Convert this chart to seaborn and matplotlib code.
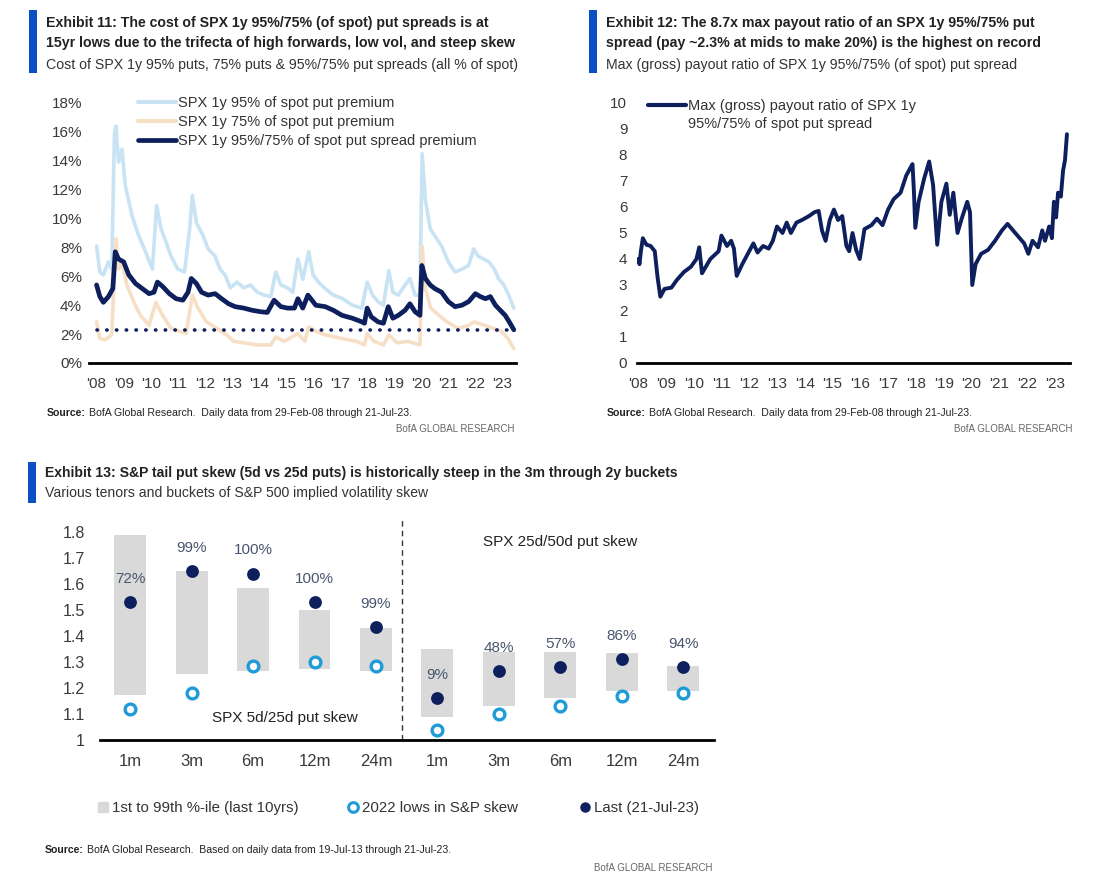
import matplotlib
matplotlib.use('Agg')
import matplotlib.pyplot as plt
from matplotlib.lines import Line2D
from matplotlib.patches import Rectangle
from matplotlib import font_manager
import seaborn as sns

# ---- Exhibit 11: cost of SPX 1y puts (% of spot); x = years, tick '08 = 2008.0
spread_year = [2008.00, 2008.12, 2008.25, 2008.44, 2008.60, 2008.69, 2008.81, 2009.00, 2009.19, 2009.44,
               2009.69, 2009.94, 2010.12, 2010.25, 2010.44, 2010.69, 2010.94, 2011.19, 2011.38, 2011.50,
               2011.69, 2011.88, 2012.12, 2012.38, 2012.62, 2012.88, 2013.12, 2013.44, 2013.75, 2014.06,
               2014.31, 2014.56, 2014.81, 2015.06, 2015.31, 2015.44, 2015.62, 2015.81, 2016.00, 2016.10,
               2016.45, 2016.75, 2017.07, 2017.45, 2017.80, 2017.90, 2018.00, 2018.15, 2018.40, 2018.60,
               2018.78, 2018.95, 2019.15, 2019.40, 2019.58, 2019.77, 2019.95, 2020.02, 2020.15, 2020.33,
               2020.50, 2020.75, 2021.00, 2021.25, 2021.50, 2021.75, 2022.00, 2022.18, 2022.37, 2022.55,
               2022.74, 2022.92, 2023.10, 2023.25, 2023.42]
spread_cost = [5.4, 4.6, 4.2, 4.6, 5.15, 7.7, 7.2, 7.0, 6.1, 5.5,
               5.15, 4.8, 4.9, 5.6, 5.3, 4.8, 4.45, 4.35, 4.9, 5.85,
               5.5, 4.9, 4.7, 4.8, 4.45, 4.1, 3.9, 3.8, 3.65, 3.55,
               3.5, 4.35, 3.9, 3.8, 3.8, 4.45, 3.8, 4.7, 4.25, 4.0,
               3.9, 3.65, 3.3, 3.1, 2.85, 2.75, 3.8, 3.2, 2.85, 2.75,
               3.9, 3.1, 3.3, 3.65, 4.1, 3.55, 3.3, 6.75, 5.85, 5.4,
               5.15, 4.9, 4.25, 3.9, 4.0, 4.25, 4.8, 4.6, 4.45, 4.6,
               4.0, 3.65, 3.3, 2.85, 2.3]

put95_year = [2008.00, 2008.12, 2008.25, 2008.44, 2008.56, 2008.66, 2008.72, 2008.81, 2008.94, 2009.06,
              2009.31, 2009.56, 2009.81, 2010.06, 2010.22, 2010.38, 2010.56, 2010.75, 2011.00, 2011.25,
              2011.44, 2011.54, 2011.69, 2011.94, 2012.12, 2012.38, 2012.56, 2012.75, 2012.94, 2013.19,
              2013.44, 2013.69, 2013.94, 2014.19, 2014.44, 2014.62, 2014.81, 2015.06, 2015.25, 2015.44,
              2015.62, 2015.84, 2016.00, 2016.20, 2016.45, 2016.75, 2017.10, 2017.45, 2017.80, 2018.00,
              2018.20, 2018.40, 2018.60, 2018.80, 2018.95, 2019.15, 2019.40, 2019.58, 2019.77, 2019.95,
              2020.03, 2020.15, 2020.33, 2020.50, 2020.75, 2021.00, 2021.25, 2021.50, 2021.75, 2021.93,
              2022.10, 2022.30, 2022.50, 2022.70, 2022.85, 2023.05, 2023.23, 2023.42]
put95_cost = [8.1, 6.3, 6.1, 7.0, 6.5, 15.9, 16.4, 13.9, 14.8, 12.3,
              10.2, 8.8, 7.7, 6.5, 10.9, 9.3, 8.4, 7.4, 6.5, 6.3,
              9.3, 11.6, 9.7, 8.8, 7.9, 7.4, 6.5, 6.1, 5.2, 5.6,
              5.2, 5.4, 4.9, 4.7, 4.6, 6.3, 5.4, 5.2, 4.9, 7.2,
              5.8, 7.7, 6.1, 5.6, 5.15, 4.7, 4.45, 4.0, 3.8, 5.6,
              4.7, 4.25, 4.0, 6.4, 4.9, 4.7, 5.4, 5.85, 4.7, 4.7,
              14.5, 11.3, 9.3, 8.8, 8.1, 7.0, 6.3, 6.5, 6.75, 7.9,
              7.4, 7.2, 7.0, 6.5, 5.85, 5.4, 4.7, 3.8]

put75_year = [2008.00, 2008.12, 2008.31, 2008.56, 2008.72, 2008.81, 2008.94, 2009.12, 2009.38, 2009.62,
              2009.94, 2010.19, 2010.44, 2010.75, 2011.06, 2011.31, 2011.54, 2011.75, 2012.06, 2012.44,
              2012.81, 2013.06, 2013.44, 2013.94, 2014.44, 2014.62, 2014.94, 2015.44, 2015.69, 2015.84,
              2016.10, 2016.45, 2017.05, 2017.60, 2017.90, 2018.00, 2018.25, 2018.60, 2018.80, 2019.10,
              2019.50, 2019.95, 2020.03, 2020.15, 2020.35, 2020.65, 2020.95, 2021.35, 2021.75, 2021.95,
              2022.35, 2022.65, 2022.95, 2023.20, 2023.42]
put75_cost = [2.85, 1.7, 1.6, 1.95, 8.6, 6.5, 7.0, 5.4, 4.2, 3.3,
              2.6, 4.2, 3.3, 2.4, 2.2, 2.05, 4.7, 3.8, 2.85, 2.4,
              1.95, 1.5, 1.4, 1.25, 1.25, 1.8, 1.5, 2.05, 1.5, 2.5,
              2.2, 1.95, 1.7, 1.5, 1.25, 2.05, 1.5, 1.25, 1.95, 1.4,
              1.5, 1.25, 8.1, 5.15, 3.8, 3.3, 2.85, 2.4, 2.6, 2.85,
              2.6, 2.4, 2.2, 1.7, 1.0]

spread_now = 2.3  # dotted line: current put spread cost

# ---- Exhibit 12: max (gross) payout ratio of the 95%/75% put spread
payout_year = [2008.00, 2008.05, 2008.10, 2008.17, 2008.30, 2008.45, 2008.60, 2008.70, 2008.80, 2008.95,
               2009.20, 2009.40, 2009.65, 2009.90, 2010.10, 2010.20, 2010.30, 2010.60, 2010.90, 2011.00,
               2011.20, 2011.35, 2011.45, 2011.55, 2011.75, 2012.00, 2012.15, 2012.30, 2012.50, 2012.70,
               2012.85, 2013.00, 2013.20, 2013.35, 2013.50, 2013.70, 2013.90, 2014.15, 2014.35, 2014.50,
               2014.62, 2014.75, 2014.90, 2015.05, 2015.20, 2015.35, 2015.50, 2015.60, 2015.72, 2015.85,
               2015.98, 2016.15, 2016.40, 2016.60, 2016.80, 2017.00, 2017.20, 2017.45, 2017.65, 2017.80,
               2017.88, 2017.93, 2017.98, 2018.10, 2018.30, 2018.48, 2018.62, 2018.77, 2018.92, 2019.10,
               2019.22, 2019.35, 2019.50, 2019.65, 2019.85, 2019.95, 2020.03, 2020.15, 2020.35, 2020.60,
               2020.85, 2021.10, 2021.30, 2021.50, 2021.70, 2021.90, 2022.05, 2022.20, 2022.40, 2022.55,
               2022.65, 2022.80, 2022.90, 2022.97, 2023.05, 2023.12, 2023.22, 2023.30, 2023.37, 2023.44]
payout_ratio = [4.0, 3.8, 4.3, 4.8, 4.55, 4.5, 4.3, 3.3, 2.55, 2.85,
                2.9, 3.2, 3.5, 3.7, 4.0, 4.45, 3.45, 4.0, 4.3, 4.9,
                4.5, 4.7, 4.4, 3.35, 3.8, 4.3, 4.6, 4.25, 4.5, 4.4,
                4.7, 5.25, 5.0, 5.4, 5.0, 5.4, 5.5, 5.65, 5.8, 5.85,
                5.1, 4.7, 5.5, 5.9, 5.5, 5.65, 4.5, 4.3, 5.0, 4.35,
                4.0, 5.15, 5.3, 5.55, 5.3, 5.9, 6.3, 6.55, 7.2, 7.5,
                7.65, 6.6, 5.2, 6.2, 7.1, 7.75, 6.85, 4.55, 6.2, 6.9,
                5.7, 6.55, 5.0, 5.55, 6.2, 5.8, 3.0, 3.8, 4.2, 4.35,
                4.7, 5.1, 5.35, 5.1, 4.85, 4.6, 4.2, 4.7, 4.45, 5.1,
                4.7, 5.25, 4.8, 6.2, 5.6, 6.55, 6.4, 7.4, 7.8, 8.8]

# ---- Exhibit 13: SPX implied vol skew by tenor
tenors = ['1m', '3m', '6m', '12m', '24m', '1m', '3m', '6m', '12m', '24m']
pct_1st = [1.175, 1.255, 1.265, 1.275, 1.265, 1.09, 1.13, 1.16, 1.19, 1.19]
pct_99th = [1.79, 1.65, 1.585, 1.50, 1.43, 1.35, 1.34, 1.34, 1.335, 1.285]
lows_2022 = [1.12, 1.18, 1.285, 1.30, 1.285, 1.04, 1.10, 1.13, 1.17, 1.18]
last_obs = [1.53, 1.65, 1.64, 1.53, 1.435, 1.16, 1.265, 1.28, 1.31, 1.28]
pct_rank = ['72%', '99%', '100%', '100%', '99%', '9%', '48%', '57%', '86%', '94%']

NAVY = '#0d1f5c'
LIGHT_BLUE = '#c8e3f3'
LIGHT_ORANGE = '#f7dfc6'
ACCENT = '#0a4fc4'
GRAY_BAR = '#d9d9d9'
CYAN = '#1f9bd7'
TXT = '#222222'
TICK = '#3a3a3a'

sns.set_theme(style='white')
installed = {f.name for f in font_manager.fontManager.ttflist}
main_font = 'Liberation Sans Narrow' if 'Liberation Sans Narrow' in installed else 'Liberation Sans'
plt.rcParams['font.family'] = [main_font, 'DejaVu Sans']

W, H = 1100, 886
fig = plt.figure(figsize=(W / 100, H / 100), dpi=100)


def fx(px):
    return px / W


def fy(py):
    return 1 - py / H


def axes_px(left, top, right, bottom):
    return fig.add_axes([fx(left), fy(bottom), (right - left) / W, (bottom - top) / H])


def header(x_bar, x_txt, y_top, y_bot, title_lines, subtitle, size=10.2):
    fig.add_artist(Rectangle((fx(x_bar), fy(y_bot)), 8 / W, (y_bot - y_top) / H,
                             transform=fig.transFigure, color=ACCENT, lw=0))
    for y, line in title_lines:
        fig.text(fx(x_txt), fy(y), line, fontsize=size, fontweight='bold', color=TXT, va='center')
    fig.text(fx(x_txt), fy(subtitle[0]), subtitle[1], fontsize=size, color='#333333', va='center')


def footer(x_txt, y_src, x_right, y_brand, note):
    src = fig.text(fx(x_txt), fy(y_src), 'Source:', fontsize=7.6, fontweight='bold', color=TXT, va='center')
    plt.annotate(note, xy=(1, 0.5), xycoords=src, xytext=(2, 0), textcoords='offset points',
                 fontsize=7.6, color=TXT, va='center', annotation_clip=False)
    fig.text(fx(x_right), fy(y_brand), 'BofA GLOBAL RESEARCH', fontsize=7, color='#666666',
             ha='right', va='center')


def style_time_axis(ax, ypad):
    ax.set_xlim(2007.72, 2023.50)
    ax.set_xticks(range(2008, 2024))
    ax.set_xticklabels([f"'{y % 100:02d}" for y in range(2008, 2024)])
    for s in ['top', 'right', 'left']:
        ax.spines[s].set_visible(False)
    ax.spines['bottom'].set_color('black')
    ax.spines['bottom'].set_linewidth(2)
    ax.tick_params(axis='both', length=0, labelsize=11, labelcolor=TICK)
    ax.tick_params(axis='y', pad=ypad)
    ax.tick_params(axis='x', pad=10)
    ax.set_xlabel('')
    ax.set_ylabel('')
    ax.grid(False)


# ---------------- Exhibit 11 ----------------
header(29, 46, 10, 73,
       [(23, 'Exhibit 11: The cost of SPX 1y 95%/75% (of spot) put spreads is at'),
        (43, '15yr lows due to the trifecta of high forwards, low vol, and steep skew')],
       (65, 'Cost of SPX 1y 95% puts, 75% puts & 95%/75% put spreads (all % of spot)'))

ax1 = axes_px(89, 103, 516, 363)
sns.lineplot(x=put95_year, y=put95_cost, ax=ax1, color=LIGHT_BLUE, lw=2.6, estimator=None, sort=False)
sns.lineplot(x=put75_year, y=put75_cost, ax=ax1, color=LIGHT_ORANGE, lw=2.6, estimator=None, sort=False)
sns.lineplot(x=spread_year, y=spread_cost, ax=ax1, color=NAVY, lw=3.4, estimator=None, sort=False)
sns.lineplot(x=[spread_year[0], spread_year[-1]], y=[spread_now, spread_now], ax=ax1, color=NAVY,
             lw=2.6, linestyle=(0, (0.1, 2.6)), dash_capstyle='round', estimator=None)
ax1.set_ylim(0, 18)
ax1.set_yticks(range(0, 19, 2))
ax1.set_yticklabels([f'{v}%' for v in range(0, 19, 2)])
style_time_axis(ax1, 5)
leg_handles = [Line2D([], [], color=LIGHT_BLUE, lw=3), Line2D([], [], color=LIGHT_ORANGE, lw=3),
               Line2D([], [], color=NAVY, lw=3.4, solid_capstyle='round')]
ax1.legend(leg_handles, ['SPX 1y 95% of spot put premium', 'SPX 1y 75% of spot put premium',
                         'SPX 1y 95%/75% of spot put spread premium'],
           loc='upper left', bbox_to_anchor=(fx(138), fy(96)), bbox_transform=fig.transFigure,
           frameon=False, fontsize=10.5, handlelength=2.6, handletextpad=0.15, labelspacing=0.35,
           borderpad=0, borderaxespad=0, labelcolor='#333333')
footer(47, 413, 515, 429, 'BofA Global Research.  Daily data from 29-Feb-08 through 21-Jul-23.')

# ---------------- Exhibit 12 ----------------
header(589, 606, 10, 73,
       [(23, 'Exhibit 12: The 8.7x max payout ratio of an SPX 1y 95%/75% put'),
        (43, 'spread (pay ~2.3% at mids to make 20%) is the highest on record')],
       (65, 'Max (gross) payout ratio of SPX 1y 95%/75% (of spot) put spread'))

ax2 = axes_px(637, 103, 1070, 363)
sns.lineplot(x=payout_year, y=payout_ratio, ax=ax2, color=NAVY, lw=2.8, estimator=None, sort=False)
ax2.set_ylim(0, 10)
ax2.set_yticks(range(0, 11))
style_time_axis(ax2, 7)
ax2.set_xlim(2007.96, 2023.55)
ax2.legend([Line2D([], [], color=NAVY, lw=3, solid_capstyle='round'), Line2D([], [], lw=0)],
           ['Max (gross) payout ratio of SPX 1y', '95%/75% of spot put spread'],
           loc='upper left', bbox_to_anchor=(fx(648), fy(99)), bbox_transform=fig.transFigure,
           frameon=False, fontsize=10.5, handlelength=2.6, handletextpad=0.15, labelspacing=0.3,
           borderpad=0, borderaxespad=0, labelcolor='#333333')
footer(607, 413, 1073, 429, 'BofA Global Research.  Daily data from 29-Feb-08 through 21-Jul-23.')

# ---------------- Exhibit 13 ----------------
header(28, 45, 462, 503,
       [(473, 'Exhibit 13: S&P tail put skew (5d vs 25d puts) is historically steep in the 3m through 2y buckets')],
       (493, 'Various tenors and buckets of S&P 500 implied volatility skew'), size=10.1)

ax3 = axes_px(100, 518, 714, 740)
pos = list(range(len(tenors)))
ax3.bar(pos, [h - l for h, l in zip(pct_99th, pct_1st)], bottom=pct_1st, width=0.52,
        color=GRAY_BAR, lw=0, zorder=1)
sns.scatterplot(x=pos, y=lows_2022, ax=ax3, s=60, color='white', edgecolor=CYAN, linewidth=2.4, zorder=3)
sns.scatterplot(x=pos, y=last_obs, ax=ax3, s=85, color=NAVY, edgecolor=NAVY, linewidth=0, zorder=4)
for i, (v, lab) in enumerate(zip(last_obs, pct_rank)):
    ax3.text(i, v + 0.09, lab, ha='center', va='center', fontsize=11, color='#4a5670')
ax3.axvline(4.42, color='#333333', lw=1, linestyle=(0, (4, 3)))
ax3.text(2.52, 1.085, 'SPX 5d/25d put skew', ha='center', va='center', fontsize=11, color=TXT)
ax3.text(7.0, 1.76, 'SPX 25d/50d put skew', ha='center', va='center', fontsize=11, color=TXT)
ax3.set_xlim(-0.49, 9.5)
ax3.set_ylim(1.0, 1.854)
ax3.set_xticks(pos)
ax3.set_xticklabels(tenors)
ax3.set_yticks([1.0, 1.1, 1.2, 1.3, 1.4, 1.5, 1.6, 1.7, 1.8])
ax3.set_yticklabels(['1', '1.1', '1.2', '1.3', '1.4', '1.5', '1.6', '1.7', '1.8'])
for s in ['top', 'right', 'left']:
    ax3.spines[s].set_visible(False)
ax3.spines['bottom'].set_color('black')
ax3.spines['bottom'].set_linewidth(2)
ax3.tick_params(axis='both', length=0, labelsize=12, labelcolor=TICK)
ax3.tick_params(axis='y', labelsize=11.5, pad=11)
ax3.tick_params(axis='x', pad=10)
ax3.grid(False)

# legend row under exhibit 13: one entry per legend so each sits where the original puts it
leg3 = [(98, Line2D([], [], marker='s', ls='', markersize=6.5, color=GRAY_BAR), '1st to 99th %-ile (last 10yrs)'),
        (348, Line2D([], [], marker='o', ls='', markersize=7, markerfacecolor='white',
                     markeredgecolor=CYAN, markeredgewidth=2.2), '2022 lows in S&P skew'),
        (580, Line2D([], [], marker='o', ls='', markersize=6.5, color=NAVY), 'Last (21-Jul-23)')]
for x_px, handle, label in leg3:
    fig.legend([handle], [label], loc='center left', bbox_to_anchor=(fx(x_px), fy(808)),
               frameon=False, fontsize=10.8, handlelength=0.7, handletextpad=0.25,
               borderpad=0, borderaxespad=0, labelcolor='#333333')
footer(45, 850, 713, 868, 'BofA Global Research.  Based on daily data from 19-Jul-13 through 21-Jul-23.')

fig.savefig('out.png', dpi=100)
